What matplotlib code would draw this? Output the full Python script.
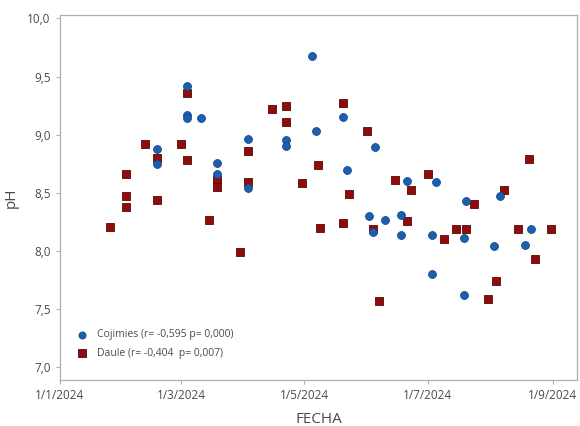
import pandas as pd
import matplotlib
matplotlib.use("Agg")
import matplotlib.pyplot as plt

# Cojimies pH samples
coj_fecha = ["2024-03-04", "2024-03-04", "2024-03-04", "2024-03-11", "2024-02-18",
             "2024-02-18", "2024-04-03", "2024-04-03", "2024-03-19", "2024-03-19",
             "2024-05-05", "2024-05-07", "2024-04-22", "2024-04-22", "2024-05-20",
             "2024-05-22", "2024-06-05", "2024-06-21", "2024-07-05", "2024-07-20",
             "2024-08-06", "2024-06-02", "2024-06-10", "2024-06-18", "2024-06-04",
             "2024-06-18", "2024-07-03", "2024-07-19", "2024-08-03", "2024-08-21",
             "2024-08-18", "2024-07-03", "2024-07-19"]
coj_ph = [9.42, 9.17, 9.14, 9.14, 8.88,
          8.75, 8.96, 8.54, 8.76, 8.66,
          9.68, 9.03, 8.95, 8.90, 9.15,
          8.70, 8.89, 8.60, 8.59, 8.43,
          8.47, 8.30, 8.27, 8.31, 8.16,
          8.14, 8.14, 8.11, 8.04, 8.19,
          8.05, 7.80, 7.62]

# Daule pH samples
dau_fecha = ["2024-01-26", "2024-02-03", "2024-02-03", "2024-02-03", "2024-02-12",
             "2024-02-18", "2024-02-18", "2024-03-01", "2024-03-04", "2024-03-04",
             "2024-03-15", "2024-03-19", "2024-03-19", "2024-03-30", "2024-04-03",
             "2024-04-03", "2024-04-15", "2024-04-22", "2024-04-22", "2024-04-30",
             "2024-05-08", "2024-05-09", "2024-05-20", "2024-05-20", "2024-05-23",
             "2024-06-01", "2024-06-04", "2024-06-07", "2024-06-15", "2024-06-21",
             "2024-06-23", "2024-07-01", "2024-07-09", "2024-07-15", "2024-07-20",
             "2024-07-24", "2024-07-31", "2024-08-04", "2024-08-08", "2024-08-15",
             "2024-08-20", "2024-08-23", "2024-08-31"]
dau_ph = [8.21, 8.66, 8.47, 8.38, 8.92,
          8.80, 8.44, 8.92, 9.36, 8.78,
          8.27, 8.61, 8.55, 7.99, 8.86,
          8.59, 9.22, 9.25, 9.11, 8.58,
          8.74, 8.20, 9.27, 8.24, 8.49,
          9.03, 8.19, 7.57, 8.61, 8.26,
          8.52, 8.66, 8.10, 8.19, 8.19,
          8.40, 7.59, 7.74, 8.52, 8.19,
          8.79, 7.93, 8.19]

tick_fechas = ["2024-01-01", "2024-03-01", "2024-05-01", "2024-07-01", "2024-09-01"]
tick_labels = ["1/1/2024", "1/3/2024", "1/5/2024", "1/7/2024", "1/9/2024"]
y_ticks = [7.0, 7.5, 8.0, 8.5, 9.0, 9.5, 10.0]

plt.rcParams['font.family'] = ['Open Sans', 'DejaVu Sans']

fig = plt.figure(figsize=(5.8, 4.26), dpi=100)
ax = fig.add_axes([0.103, 0.108, 0.892, 0.857])

ax.scatter(pd.to_datetime(coj_fecha), coj_ph, marker="o", s=32, color="#1b5fae",
           edgecolors="#134a8c", linewidths=0.6, label="Cojimies (r= -0,595 p= 0,000)", zorder=3)
ax.scatter(pd.to_datetime(dau_fecha), dau_ph, marker="s", s=36, color="#8e0c0c",
           edgecolors="#5e0505", linewidths=0.6, label="Daule (r= -0,404  p= 0,007)", zorder=2)

ax.set_xlim(pd.Timestamp("2024-01-01"), pd.Timestamp("2024-09-13"))
ax.set_ylim(6.89, 10.03)
ax.set_xticks(pd.to_datetime(tick_fechas))
ax.set_xticklabels(tick_labels)
ax.set_yticks(y_ticks)
ax.set_yticklabels([f"{v:.1f}".replace(".", ",") for v in y_ticks])

for s in ax.spines.values():
    s.set_color("#b0b0b0")
    s.set_linewidth(0.9)
ax.tick_params(colors="#b0b0b0", labelcolor="#4a4a4a", labelsize=8.5, length=3, width=0.8)

ax.set_xlabel("FECHA", fontsize=11, color="#4a4a4a", labelpad=7)
ax.set_ylabel("pH", fontsize=11, color="#4a4a4a", labelpad=6)

leg = ax.legend(loc="lower left", bbox_to_anchor=(0.01, 0.04), frameon=False, fontsize=7.5,
                handletextpad=0.5, labelspacing=0.75, borderaxespad=0.2, markerscale=0.9)
for t in leg.get_texts():
    t.set_color("#4a4a4a")

fig.savefig("out.png", dpi=100)
